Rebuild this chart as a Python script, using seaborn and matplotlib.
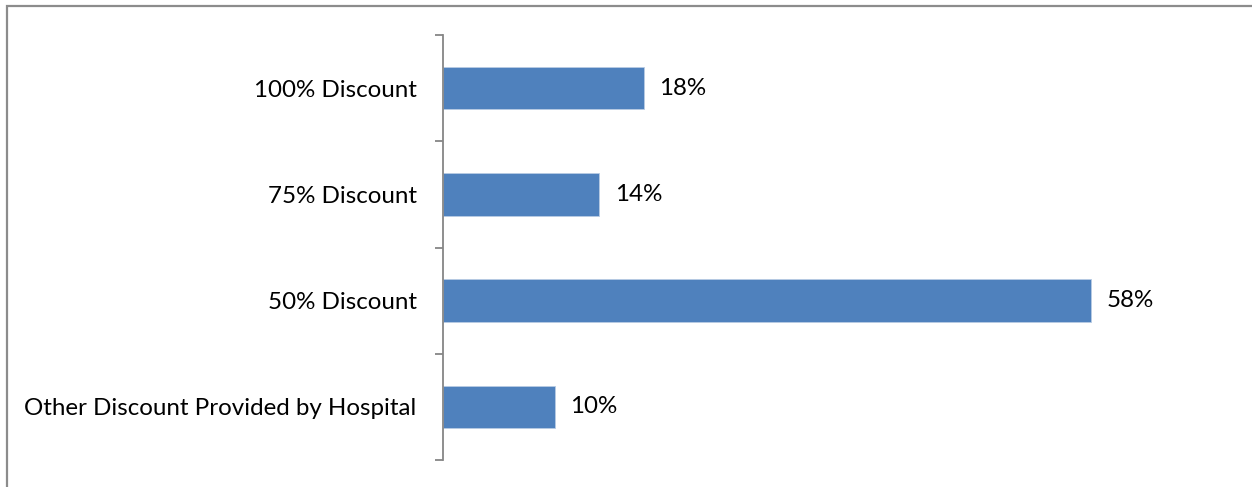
import matplotlib
matplotlib.use("Agg")
import matplotlib.pyplot as plt
import matplotlib.patches as mpatches
import numpy as np
import pandas as pd
import seaborn as sns

# chart data
categories = ['100% Discount', '75% Discount', '50% Discount',
              'Other Discount Provided by Hospital']
shares = [18, 14, 58, 10]
value_labels = ['18%', '14%', '58%', '10%']

df = pd.DataFrame({'category': categories, 'share': shares})

sns.set_style('white')
plt.rcParams['font.family'] = ['Lato', 'DejaVu Sans']
plt.rcParams['text.color'] = 'black'
plt.rcParams['ytick.labelcolor'] = 'black'

W, H = 1252, 487
fig = plt.figure(figsize=(W / 100, H / 100), dpi=100)
ax = fig.add_axes([443 / W, 1 - 460 / H, 782 / W, 425 / H])

sns.barplot(data=df, x='share', y='category', order=categories,
            color='#4F81BD', width=0.4, saturation=1, ax=ax,
            edgecolor='#B8CCE4', linewidth=0.6)

ax.set_xlim(0, 70)
ax.set_ylim(3.5, -0.5)
ax.set_xlabel('')
ax.set_ylabel('')
ax.set_xticks([])

# category labels between boundary ticks
ax.set_yticks(np.arange(len(categories)))
ax.set_yticklabels(categories, fontsize=17.4, color='black')
ax.tick_params(axis='y', which='major', length=0, pad=19)
ax.set_yticks(np.arange(len(categories) + 1) - 0.5, minor=True)
ax.tick_params(axis='y', which='minor', left=True, length=6, width=1.3,
               color='#868686', direction='out')

for side in ['top', 'right', 'bottom']:
    ax.spines[side].set_visible(False)
ax.spines['left'].set_color('#868686')
ax.spines['left'].set_linewidth(1.3)

ax.bar_label(ax.containers[0], labels=value_labels, padding=11,
             fontsize=17.4, color='black')

# outer chart frame (cut off at right and bottom)
frame = mpatches.Rectangle((6.5 / W, -0.1), 1.2, 1 - 5.5 / H + 0.1,
                           transform=fig.transFigure, fill=False,
                           edgecolor='#8C8C8C', linewidth=1.6)
fig.patches.append(frame)

fig.savefig('out.png', dpi=100)
